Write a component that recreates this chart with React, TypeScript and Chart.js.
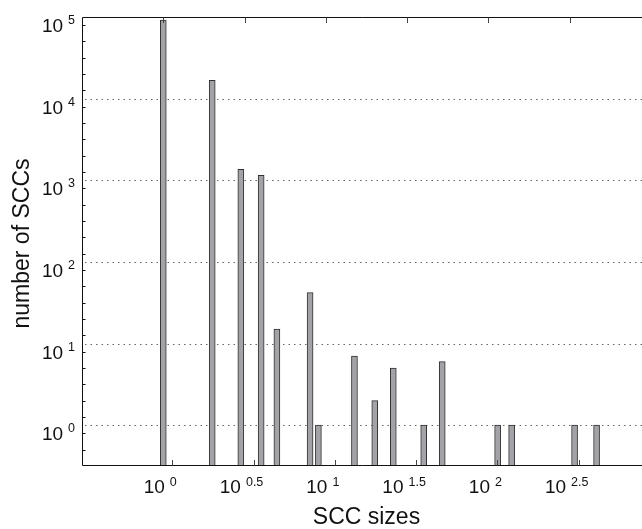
import React, { useEffect, useRef } from 'react';
import { Chart, registerables } from 'chart.js';

Chart.register(...registerables);

// SCC size (x) and number of SCCs of that size (y)
const sccSizes = [1, 2, 3, 4, 5, 8, 9, 15, 20, 26, 40, 52, 114, 139, 339, 463];
const sccCounts = [91500, 16800, 1360, 1150, 15, 42, 1, 7, 2, 5, 1, 6, 1, 1, 1, 1];

// axis ticks, in decades
const xTickExponents = ['0', '0.5', '1', '1.5', '2', '2.5'];
const xTickDecades = [0, 0.5, 1, 1.5, 2, 2.5];
const yTickExponents = ['0', '1', '2', '3', '4', '5'];
const yTickDecades = [0, 1, 2, 3, 4, 5];
const yMinorStep = 0.2;

const xRange = [-0.5, 2.945];
const yRange = [-0.5, 5];
const bottomTickShift = 0.056; // bottom-axis tick marks sit slightly right of the top ones

const xTitle = 'SCC sizes';
const yTitle = 'number of SCCs';

const FONT = '"Liberation Sans", Arial, Helvetica, sans-serif';

const matlabAxes = {
  id: 'matlabAxes',
  beforeDatasetsDraw(chart: any) {
    const { ctx, chartArea } = chart;
    const ys = chart.scales.y;
    ctx.save();
    ctx.strokeStyle = '#666';
    ctx.lineWidth = 1;
    ctx.setLineDash([1.5, 4]);
    yTickDecades.forEach((d) => {
      if (d >= yRange[1]) return;
      const y = Math.round(ys.getPixelForValue(d)) + 0.5;
      ctx.beginPath();
      ctx.moveTo(chartArea.left + 3, y);
      ctx.lineTo(chartArea.right, y);
      ctx.stroke();
    });
    ctx.restore();
  },
  afterDatasetsDraw(chart: any) {
    const { ctx, chartArea } = chart;
    const xs = chart.scales.x;
    const ys = chart.scales.y;
    const L = Math.round(chartArea.left) + 0.5;
    const T = Math.round(chartArea.top) + 0.5;
    const B = Math.round(chartArea.bottom) - 0.5;
    const R = chartArea.right;
    ctx.save();
    ctx.setLineDash([]);
    ctx.strokeStyle = '#111';
    ctx.lineWidth = 1;
    // axis lines
    ctx.beginPath();
    ctx.moveTo(L, T);
    ctx.lineTo(R, T);
    ctx.moveTo(L, T);
    ctx.lineTo(L, B);
    ctx.lineTo(R, B);
    ctx.stroke();

    // y minor + major ticks
    ctx.beginPath();
    const nMinor = Math.round((yRange[1] - yRange[0]) / yMinorStep);
    for (let i = 1; i < nMinor; i++) {
      const d = yRange[0] + i * yMinorStep;
      const isMajor = Math.abs(d - Math.round(d)) < 1e-6;
      const y = Math.round(ys.getPixelForValue(d)) + 0.5;
      ctx.moveTo(L, y);
      ctx.lineTo(L + (isMajor ? 5.5 : 3), y);
    }
    ctx.stroke();

    // top ticks and bottom ticks
    ctx.strokeStyle = '#444';
    ctx.beginPath();
    xTickDecades.forEach((d) => {
      const xt = Math.round(xs.getPixelForValue(d)) + 0.5;
      ctx.moveTo(xt, T);
      ctx.lineTo(xt, T + 5.5);
      const xb = Math.round(xs.getPixelForValue(d + bottomTickShift)) + 0.5;
      ctx.moveTo(xb, B);
      ctx.lineTo(xb, B - 5.5);
    });
    ctx.stroke();

    ctx.fillStyle = '#111';
    ctx.textBaseline = 'alphabetic';
    const baseFont = `19px ${FONT}`;
    const expFont = `12.5px ${FONT}`;
    const gap = 5;

    // y labels
    yTickDecades.forEach((d, i) => {
      const y = ys.getPixelForValue(d);
      ctx.font = expFont;
      const we = ctx.measureText(yTickExponents[i]).width;
      ctx.font = baseFont;
      const wb = ctx.measureText('10').width;
      const right = chartArea.left - 7;
      ctx.textAlign = 'left';
      ctx.fillText('10', right - we - gap - wb, y + 15);
      ctx.font = expFont;
      ctx.fillText(yTickExponents[i], right - we, y + 7);
    });

    // x labels
    xTickDecades.forEach((d, i) => {
      const x = xs.getPixelForValue(d) - 3;
      ctx.font = expFont;
      const we = ctx.measureText(xTickExponents[i]).width;
      ctx.font = baseFont;
      const wb = ctx.measureText('10').width;
      const total = wb + gap + we;
      const left = x - total / 2;
      ctx.textAlign = 'left';
      ctx.fillText('10', left, 493);
      ctx.font = expFont;
      ctx.fillText(xTickExponents[i], left + wb + gap, 486);
    });

    // titles
    ctx.font = `23px ${FONT}`;
    ctx.textAlign = 'center';
    ctx.fillText(xTitle, (chartArea.left + xs.getPixelForValue(3)) / 2, 524);
    ctx.save();
    ctx.translate(29, (chartArea.top + chartArea.bottom) / 2 + 2);
    ctx.rotate(-Math.PI / 2);
    ctx.fillText(yTitle, 0, 0);
    ctx.restore();

    ctx.restore();
  },
};

export default function App() {
  const ref = useRef<HTMLCanvasElement | null>(null);
  useEffect(() => {
    if (!ref.current) return;
    const data = sccSizes.map((s, i) => ({ x: Math.log10(s), y: Math.log10(sccCounts[i]) }));
    const chart = new Chart(ref.current, {
      type: 'bar',
      data: {
        datasets: [
          {
            data: data as any,
            base: yRange[0],
            backgroundColor: '#a3a3a7',
            borderColor: '#303030',
            borderWidth: 1,
            barThickness: 6,
          } as any,
        ],
      },
      options: {
        responsive: false,
        animation: false,
        devicePixelRatio: 1,
        layout: { padding: { left: 82, top: 17, right: 0, bottom: 63 } },
        plugins: { legend: { display: false }, tooltip: { enabled: false } },
        scales: {
          x: { type: 'linear', min: xRange[0], max: xRange[1], display: false, offset: false },
          y: { type: 'linear', min: yRange[0], max: yRange[1], display: false },
        },
      },
      plugins: [matlabAxes],
    });
    return () => chart.destroy();
  }, []);
  return (
    <div style={{ position: 'fixed', left: 0, top: 0, width: 642, height: 529, background: '#fff' }}>
      <canvas ref={ref} width={642} height={529} style={{ width: 642, height: 529, display: 'block' }} />
    </div>
  );
}
